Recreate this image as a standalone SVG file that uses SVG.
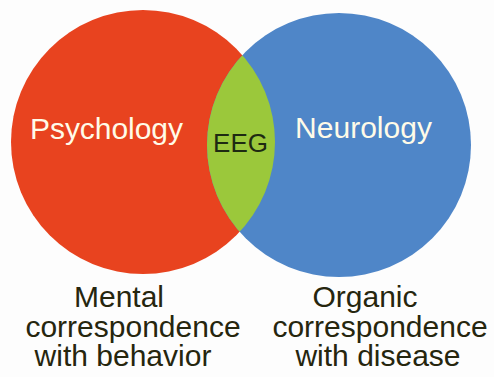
<svg xmlns="http://www.w3.org/2000/svg" width="494" height="377" viewBox="0 0 494 377">
<style>
text{font-family:"Liberation Sans",Arial,sans-serif;}
.lbl{font-size:30px;fill:#fffbe8;}
.cap{font-size:30px;fill:#26260e;text-anchor:middle;}
.eeg{font-size:26px;fill:#1e2a12;}
</style>
<defs>
<clipPath id="clipRed"><circle cx="143" cy="142" r="132"/></clipPath>
</defs>
<rect width="494" height="377" fill="#fdfdfd"/>
<g id="psychology">
<circle cx="143" cy="142" r="132" fill="#e8431f"/>
<text class="lbl" x="30" y="139" textLength="153">Psychology</text>
</g>
<g id="neurology">
<circle cx="339" cy="145" r="132" fill="#4f86c8"/>
<text class="lbl" x="295" y="138" textLength="137">Neurology</text>
</g>
<g id="eeg">
<circle cx="339" cy="145" r="132" fill="#9bc83b" clip-path="url(#clipRed)"/>
<text class="eeg" x="213" y="152" textLength="55">EEG</text>
</g>
<g id="connectors"></g>
<g id="caption-left">
<text class="cap" x="119" y="307">Mental</text>
<text class="cap" x="133" y="337">correspondence</text>
<text class="cap" x="123" y="366">with behavior</text>
</g>
<g id="caption-right">
<text class="cap" x="365" y="307">Organic</text>
<text class="cap" x="380" y="337">correspondence</text>
<text class="cap" x="378" y="366">with disease</text>
</g>
</svg>
